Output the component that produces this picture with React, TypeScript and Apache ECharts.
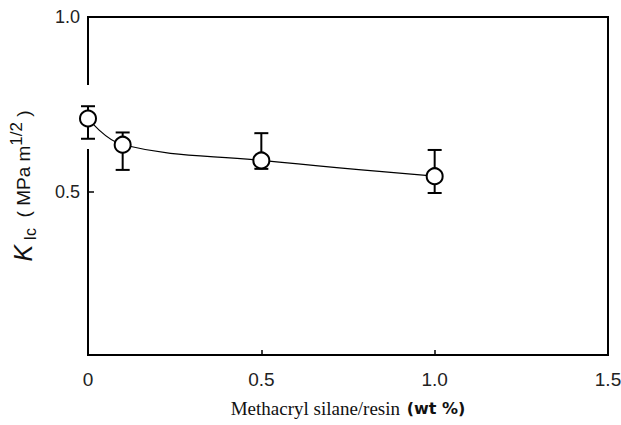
import React, { useEffect, useRef } from "react";
import * as echarts from "echarts";

const silaneContent = [0, 0.1, 0.5, 1.0];
const kicValues = [0.71, 0.635, 0.59, 0.545];
const errUpper = [0.745, 0.67, 0.668, 0.62];
const errLower = [0.652, 0.563, 0.566, 0.497];
const xTickValues = [0, 0.5, 1.0, 1.5];
const yTickValues = [0.5, 1.0];

export default function App() {
  const ref = useRef<HTMLDivElement>(null);
  useEffect(() => {
    if (!ref.current) return;
    const chart = echarts.init(ref.current, null, { renderer: "svg" });
    const lineData = silaneContent.map((x, i) => [x, kicValues[i]]);
    const errData = silaneContent.map((x, i) => [x, errUpper[i], errLower[i]]);
    chart.setOption({
      animation: false,
      backgroundColor: "#fff",
      grid: {
        left: 88,
        right: 13,
        top: 17,
        bottom: 70,
        outerBoundsMode: "none",
        containLabel: false,
        show: true,
        borderColor: "#000",
        borderWidth: 2,
        backgroundColor: "transparent",
      },
      xAxis: {
        type: "value",
        min: 0,
        max: 1.5,
        axisLine: { show: true, lineStyle: { color: "#000", width: 2 } },
        splitLine: { show: false },
        axisTick: {
          show: true,
          inside: true,
          length: 5,
          customValues: [0.5, 1.0],
          lineStyle: { color: "#000", width: 1.5 },
        },
        axisLabel: {
          customValues: xTickValues,
          margin: 15,
          fontFamily: "Liberation Sans",
          fontSize: 19,
          color: "#222",
          formatter: (v: number) => (v === 0 ? "0" : v.toFixed(1)),
        },
        name: "{a|Methacryl silane/resin}  {b|(wt %)}",
        nameLocation: "middle",
        nameGap: 44,
        nameTextStyle: {
          rich: {
            a: { fontFamily: "Liberation Serif", fontSize: 19, color: "#111" },
            b: { fontFamily: "DejaVu Sans", fontSize: 16, fontWeight: "bold", color: "#111" },
          },
        },
      },
      yAxis: {
        type: "value",
        min: 0.034,
        max: 1.0,
        axisLine: { show: true, lineStyle: { color: "#000", width: 2 } },
        splitLine: { show: false },
        axisTick: {
          show: true,
          inside: true,
          length: 6,
          customValues: [0.5],
          lineStyle: { color: "#000", width: 1.5 },
        },
        axisLabel: {
          customValues: yTickValues,
          margin: 8,
          fontFamily: "Liberation Sans",
          fontSize: 18,
          color: "#222",
          formatter: (v: number) => v.toFixed(1),
        },
        name: "{k|K}{s| Ic}{t|  ( MPa m}{p|1/2}{t| )}",
        nameLocation: "middle",
        nameRotate: 90,
        nameGap: 50,
        nameTextStyle: {
          rich: {
            k: { fontFamily: "Liberation Sans", fontStyle: "italic", fontSize: 25, color: "#111", lineHeight: 30, verticalAlign: "middle" },
            s: { fontFamily: "Liberation Sans", fontSize: 16, color: "#111", lineHeight: 30, verticalAlign: "bottom" },
            t: { fontFamily: "Liberation Sans", fontSize: 19, color: "#111", lineHeight: 30, verticalAlign: "middle" },
            p: { fontFamily: "Liberation Sans", fontSize: 17, color: "#111", lineHeight: 30, verticalAlign: "top" },
          },
        },
      },
      graphic: [
        {
          type: "rect",
          z: 1,
          shape: { x: 85, y: 85, width: 6, height: 64 },
          style: { fill: "#fff" },
        },
      ],
      series: [
        {
          type: "custom",
          z: 3,
          data: errData,
          renderItem: (params: any, api: any) => {
            const x = api.value(0);
            const pHi = api.coord([x, api.value(1)]);
            const pLo = api.coord([x, api.value(2)]);
            const w = 7;
            const st = { stroke: "#000", lineWidth: 2 };
            return {
              type: "group",
              children: [
                { type: "line", shape: { x1: pHi[0], y1: pHi[1], x2: pLo[0], y2: pLo[1] }, style: st },
                { type: "line", shape: { x1: pHi[0] - w, y1: pHi[1], x2: pHi[0] + w, y2: pHi[1] }, style: st },
                { type: "line", shape: { x1: pLo[0] - w, y1: pLo[1], x2: pLo[0] + w, y2: pLo[1] }, style: st },
              ],
            };
          },
        },
        {
          type: "line",
          z: 5,
          data: lineData,
          smooth: 0.4,
          symbol: "circle",
          symbolSize: 16,
          lineStyle: { color: "#000", width: 1.2 },
          itemStyle: { color: "#fff", borderColor: "#000", borderWidth: 2 },
        },
      ],
    });
    return () => chart.dispose();
  }, []);
  return (
    <div
      ref={ref}
      style={{ position: "fixed", left: 0, top: 0, width: 621, height: 425 }}
    />
  );
}
